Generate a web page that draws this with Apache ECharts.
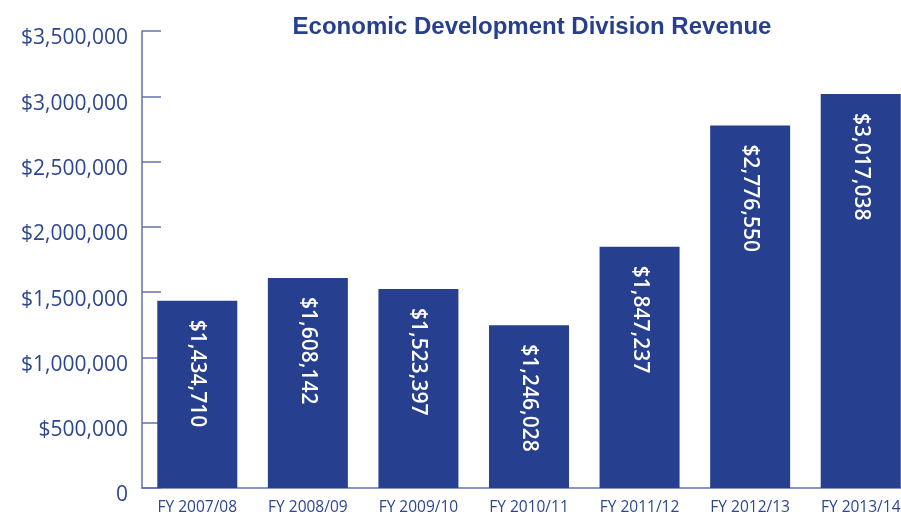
<!DOCTYPE html>
<html>
<head>
<meta charset="utf-8">
<script src="https://cdn.jsdelivr.net/npm/echarts@6/dist/echarts.min.js"></script>
<style>
  html, body { margin: 0; padding: 0; background: #fff; }
  #chart { width: 901px; height: 515px; }
</style>
</head>
<body>
<div id="chart"></div>
<script>
// fiscal years
const years = ['FY 2007/08', 'FY 2008/09', 'FY 2009/10', 'FY 2010/11', 'FY 2011/12', 'FY 2012/13', 'FY 2013/14'];
// revenue per year, dollars
const revenue = [1434710, 1608142, 1523397, 1246028, 1847237, 2776550, 3017038];

const navy = '#263f8e';
const textBlue = '#2c4792';

function money(v) {
  return '$' + v.toLocaleString('en-US');
}

const chart = echarts.init(document.getElementById('chart'));
chart.setOption({
  animation: false,
  title: {
    text: 'Economic Development Division Revenue',
    left: 527,
    top: 10,
    textAlign: 'center',
    textStyle: {
      fontFamily: '"Liberation Sans", Arial, sans-serif',
      fontWeight: 'bold',
      fontSize: 24,
      color: navy
    }
  },
  grid: { left: 142, top: 31, bottom: 27, width: 774, outerBoundsMode: 'none' },
  xAxis: {
    type: 'category',
    data: years,
    axisLine: { lineStyle: { color: '#6472ad', width: 1.5 } },
    axisTick: { inside: true, length: 11, lineStyle: { color: '#6472ad' } },
    axisLabel: {
      margin: 12,
      fontFamily: '"Open Sans", "Noto Sans", sans-serif',
      fontSize: 15.5,
      color: textBlue
    }
  },
  yAxis: {
    type: 'value',
    min: 0,
    max: 3500000,
    interval: 500000,
    splitLine: { show: false },
    axisLine: { show: true, lineStyle: { color: '#6472ad', width: 1.5 } },
    axisTick: { show: true, inside: true, length: 19, lineStyle: { color: '#6472ad', width: 1.5 } },
    axisLabel: {
      margin: 14,
      fontFamily: '"Open Sans", "Noto Sans", sans-serif',
      fontSize: 21,
      color: textBlue,
      formatter: v => '{a|' + (v === 0 ? '0' : money(v)) + '}',
      rich: {
        a: {
          padding: [15, 0, 0, 0],
          fontFamily: '"Open Sans", "Noto Sans", sans-serif',
          fontSize: 21,
          color: textBlue
        }
      }
    }
  },
  series: [{
    type: 'bar',
    data: revenue,
    barWidth: 80,
    itemStyle: { color: navy },
    label: {
      show: true,
      position: 'insideTop',
      distance: 19,
      rotate: -90,
      align: 'left',
      verticalAlign: 'middle',
      fontFamily: '"Open Sans", "Noto Sans", sans-serif',
      fontWeight: 600,
      fontSize: 21,
      color: '#fff',
      formatter: p => money(p.value)
    }
  }]
});
</script>
</body>
</html>
